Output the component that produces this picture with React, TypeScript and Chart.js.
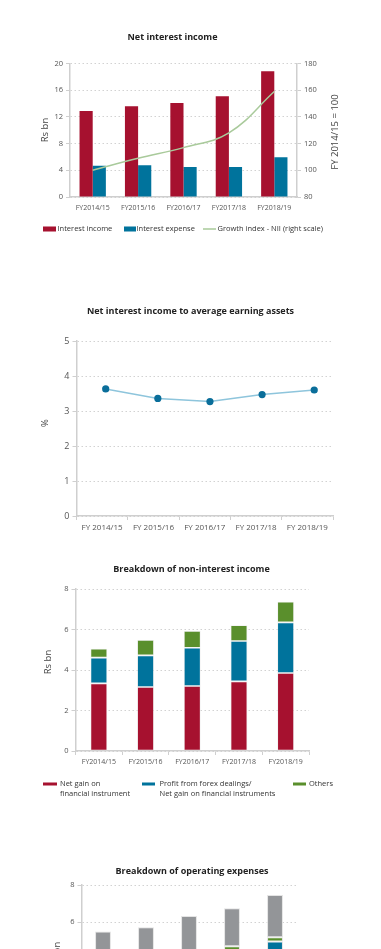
import React, { useEffect, useRef } from 'react';
import { Chart, registerables } from 'chart.js';

Chart.register(...registerables);

const FAMILY = '"Open Sans", "Noto Sans", sans-serif';

// ---------- Chart 1: Net interest income ----------
const title1 = 'Net interest income';
const years1 = ['FY2014/15', 'FY2015/16', 'FY2016/17', 'FY2017/18', 'FY2018/19'];
const interestIncome = [12.9, 13.6, 14.1, 15.1, 18.85];
const interestExpense = [4.7, 4.75, 4.5, 4.5, 5.95];
const growthIndexNII = [100, 109, 117, 128, 159];
const leftAxisTitle1 = 'Rs bn';
const rightAxisTitle1 = 'FY 2014/15 = 100';

// ---------- Chart 2: NIM ----------
const title2 = 'Net interest income to average earning assets';
const years2 = ['FY 2014/15', 'FY 2015/16', 'FY 2016/17', 'FY 2017/18', 'FY 2018/19'];
const nimPercent = [3.63, 3.36, 3.27, 3.47, 3.6];
const axisTitle2 = '%';

// ---------- Chart 3: non-interest income ----------
const title3 = 'Breakdown of non-interest income';
const years3 = ['FY2014/15', 'FY2015/16', 'FY2016/17', 'FY2017/18', 'FY2018/19'];
const netGainFinInstr = [3.34, 3.16, 3.21, 3.44, 3.85];
const forexProfit = [1.27, 1.56, 1.89, 1.99, 2.5];
const otherNonInterest = [0.44, 0.76, 0.83, 0.78, 1.02];
const axisTitle3 = 'Rs bn';

// ---------- Chart 4: operating expenses ----------
const title4 = 'Breakdown of operating expenses';
const years4 = ['FY2014/15', 'FY2015/16', 'FY2016/17', 'FY2017/18', 'FY2018/19'];
const personnelExp = [2.3, 2.4, 2.6, 2.7, 2.9];
const premisesExp = [1.1, 1.2, 1.3, 1.5, 2.04];
const depreciationExp = [0.3, 0.3, 0.3, 0.49, 0.23];
const otherExp = [1.78, 1.81, 2.12, 2.05, 2.29];
const axisTitle4 = 'Rs bn';

const RED = '#A6112F';
const BLUE = '#00739C';
const GREEN = '#5A8F2C';
const GRAY = '#939598';
const AXIS = '#cfcfcf';
const GRID = '#d2d2d2';
const TICK = '#555555';
const W = 381;

type TextSpec = { text: string; x: number; y: number; size: number; weight?: string; color?: string; rotate?: boolean };
type LegendSpec = { ds: number; kind: 'rect' | 'line'; x: number; y: number; w: number; h: number; tx: number };

function decor(texts: TextSpec[], legend: LegendSpec[], legendSize: number, lineH: number) {
  return {
    id: 'decor',
    afterDraw(chart: any) {
      const ctx = chart.ctx as CanvasRenderingContext2D;
      ctx.save();
      for (const t of texts) {
        ctx.save();
        ctx.font = `${t.weight || 'normal'} ${t.size}px ${FAMILY}`;
        ctx.fillStyle = t.color || '#444';
        ctx.textAlign = 'center';
        ctx.textBaseline = 'middle';
        ctx.translate(t.x, t.y);
        if (t.rotate) ctx.rotate(-Math.PI / 2);
        ctx.fillText(t.text, 0, 0);
        ctx.restore();
      }
      for (const l of legend) {
        const ds = chart.data.datasets[l.ds];
        const col = l.kind === 'line' ? ds.borderColor : ds.backgroundColor;
        ctx.fillStyle = col;
        ctx.fillRect(l.x, l.y - l.h / 2, l.w, l.h);
        ctx.font = `normal ${legendSize}px ${FAMILY}`;
        ctx.fillStyle = '#333';
        ctx.textAlign = 'left';
        ctx.textBaseline = 'middle';
        String(ds.label).split('\n').forEach((s, i) => ctx.fillText(s, l.tx, l.y + i * lineH));
      }
      ctx.restore();
    },
  };
}

const tickFont = (size: number) => ({ family: FAMILY, size });

function yAxis(min: number, max: number, step: number, width: number, size: number, extra: any = {}) {
  return {
    position: 'left',
    min,
    max,
    ticks: { stepSize: step, font: tickFont(size), color: TICK, padding: 3 },
    grid: { color: GRID, tickLength: 4, tickColor: AXIS, lineWidth: 1 },
    border: { color: AXIS, width: 1.5, dash: [1.5, 2.5] },
    afterFit: (s: any) => { s.width = width; },
    ...extra,
  };
}

function xAxis(height: number, size: number, ticksOn: boolean, padding: number, extra: any = {}) {
  return {
    offset: true,
    grid: { offset: true, drawOnChartArea: false, drawTicks: ticksOn, tickLength: 4, color: AXIS },
    border: { color: AXIS, width: 1.5 },
    ticks: { font: tickFont(size), color: TICK, maxRotation: 0, autoSkip: false, padding },
    afterFit: (s: any) => { s.height = height; },
    ...extra,
  };
}

function config1(): any {
  const H = 250, L = 70, T = 63.5, R = 297, B = 197;
  return {
    type: 'bar',
    data: {
      labels: years1,
      datasets: [
        { type: 'bar', label: 'Interest income', data: interestIncome, backgroundColor: RED, yAxisID: 'y', order: 2 },
        { type: 'bar', label: 'Interest expense', data: interestExpense, backgroundColor: BLUE, yAxisID: 'y', order: 2 },
        { type: 'line', label: 'Growth index - NII (right scale)', data: growthIndexNII, borderColor: '#A9CA9B', backgroundColor: '#A9CA9B', borderWidth: 1.5, pointRadius: 0, tension: 0.4, yAxisID: 'y1', order: 0 },
      ],
    },
    options: {
      responsive: false,
      animation: false,
      events: [],
      categoryPercentage: 0.58,
      barPercentage: 1,
      layout: { padding: { top: T, left: 0, right: 0, bottom: 0 } },
      plugins: { legend: { display: false }, title: { display: false }, tooltip: { enabled: false } },
      scales: {
        x: xAxis(H - B, 7, false, 7),
        y: yAxis(0, 20, 4, L, 7.5),
        y1: {
          position: 'right', min: 80, max: 180,
          ticks: { stepSize: 20, font: tickFont(7.5), color: TICK, padding: 3 },
          grid: { drawOnChartArea: false, tickLength: 4, color: AXIS },
          border: { color: AXIS, width: 1.5 },
          afterFit: (s: any) => { s.width = W - R; },
        },
      },
    },
    plugins: [decor([
      { text: title1, x: 172.5, y: 37.7, size: 9, weight: 'bold', color: '#222' },
      { text: leftAxisTitle1, x: 45.5, y: 130, size: 9.5, rotate: true, color: '#444' },
      { text: rightAxisTitle1, x: 335.5, y: 132, size: 9.5, rotate: true, color: '#444' },
    ], [
      { ds: 0, kind: 'rect', x: 43, y: 229, w: 13, h: 5, tx: 57.5 },
      { ds: 1, kind: 'rect', x: 124, y: 229, w: 12, h: 5, tx: 136.5 },
      { ds: 2, kind: 'line', x: 203, y: 229, w: 13, h: 1.5, tx: 217.5 },
    ], 7.5, 10)],
  };
}

function config2(): any {
  const H = 255, L = 76.5, T = 51, R = 333, B = 226;
  return {
    type: 'line',
    data: {
      labels: years2,
      datasets: [
        {
          label: 'Net interest income to average earning assets',
          data: nimPercent.map((v, i) => ({ x: i, y: v })),
          xAxisID: 'xp',
          borderColor: '#8EC5DC',
          borderWidth: 1.5,
          pointRadius: 3.6,
          pointBackgroundColor: '#0A6E9A',
          pointBorderColor: '#0A6E9A',
          pointBorderWidth: 0,
          tension: 0,
        },
      ],
    },
    options: {
      responsive: false,
      animation: false,
      events: [],
      layout: { padding: { top: T, left: 0, right: W - R, bottom: 0 } },
      plugins: { legend: { display: false }, title: { display: false }, tooltip: { enabled: false } },
      scales: {
        x: xAxis(H - B, 8, true, 3),
        xp: { type: 'linear', display: false, min: -0.56, max: 4.36 },
        y: yAxis(0, 5, 1, L, 9, {}),
      },
    },
    plugins: [decor([
      { text: title2, x: 190.5, y: 21.7, size: 9, weight: 'bold', color: '#222' },
      { text: axisTitle2, x: 45, y: 133, size: 9.5, rotate: true, color: '#444' },
    ], [], 8, 10)],
  };
}

function config3(): any {
  const H = 260, L = 75.5, T = 39, R = 309, B = 201;
  const seg = { borderColor: 'rgba(230,230,230,0.7)', borderWidth: 0.8, borderSkipped: false };
  return {
    type: 'bar',
    data: {
      labels: years3,
      datasets: [
        { label: 'Net gain on\nfinancial instrument', data: netGainFinInstr, backgroundColor: RED, ...seg },
        { label: 'Profit from forex dealings/\nNet gain on financial instruments', data: forexProfit, backgroundColor: BLUE, ...seg },
        { label: 'Others', data: otherNonInterest, backgroundColor: GREEN, ...seg },
      ],
    },
    options: {
      responsive: false,
      animation: false,
      events: [],
      categoryPercentage: 1,
      barPercentage: 0.36,
      layout: { padding: { top: T, left: 0, right: W - R, bottom: 0 } },
      plugins: { legend: { display: false }, title: { display: false }, tooltip: { enabled: false } },
      scales: {
        x: xAxis(H - B, 7, true, 3, { stacked: true }),
        y: yAxis(0, 8, 2, L, 7.5, { stacked: true }),
      },
    },
    plugins: [decor([
      { text: title3, x: 191.5, y: 19.3, size: 9, weight: 'bold', color: '#222' },
      { text: axisTitle3, x: 48.3, y: 112, size: 9.5, rotate: true, color: '#444' },
    ], [
      { ds: 0, kind: 'rect', x: 43, y: 234, w: 14, h: 3, tx: 60 },
      { ds: 1, kind: 'rect', x: 142, y: 234, w: 13, h: 3, tx: 159.5 },
      { ds: 2, kind: 'rect', x: 293, y: 234, w: 13, h: 3, tx: 309 },
    ], 7.5, 10)],
  };
}

function config4(): any {
  const H = 250, L = 81.5, T = 35, R = 296.5, B = 183;
  const seg = { borderColor: 'rgba(225,225,225,0.9)', borderWidth: 1, borderSkipped: false };
  return {
    type: 'bar',
    data: {
      labels: years4,
      datasets: [
        { label: 'Personnel expenses', data: personnelExp, backgroundColor: RED, ...seg },
        { label: 'Premises, equipment and establishment expenses', data: premisesExp, backgroundColor: BLUE, ...seg },
        { label: 'Depreciation and amortisation', data: depreciationExp, backgroundColor: GREEN, ...seg },
        { label: 'Other expenses', data: otherExp, backgroundColor: GRAY, ...seg },
      ],
    },
    options: {
      responsive: false,
      animation: false,
      events: [],
      categoryPercentage: 1,
      barPercentage: 0.37,
      layout: { padding: { top: T, left: 0, right: W - R, bottom: 0 } },
      plugins: { legend: { display: false }, title: { display: false }, tooltip: { enabled: false } },
      scales: {
        x: xAxis(H - B, 7, true, 3, { stacked: true }),
        y: yAxis(0, 8, 2, L, 7.5, { stacked: true }),
      },
    },
    plugins: [decor([
      { text: title4, x: 192, y: 21, size: 9, weight: 'bold', color: '#222' },
      { text: axisTitle4, x: 57, y: 104, size: 9.5, rotate: true, color: '#444' },
    ], [], 8, 10)],
  };
}

function ChartCanvas({ top, height, make }: { top: number; height: number; make: () => any }) {
  const ref = useRef<HTMLCanvasElement>(null);
  useEffect(() => {
    const chart = new Chart(ref.current as HTMLCanvasElement, make());
    return () => chart.destroy();
  }, []);
  return (
    <canvas
      ref={ref}
      width={W}
      height={height}
      style={{ position: 'absolute', left: 0, top, width: W, height, display: 'block' }}
    />
  );
}

export default function App() {
  return (
    <div style={{ position: 'absolute', left: 0, top: 0, width: W, height: 949, overflow: 'hidden', background: '#fff' }}>
      <ChartCanvas top={0} height={250} make={config1} />
      <ChartCanvas top={290} height={255} make={config2} />
      <ChartCanvas top={550} height={260} make={config3} />
      <ChartCanvas top={850} height={250} make={config4} />
    </div>
  );
}
